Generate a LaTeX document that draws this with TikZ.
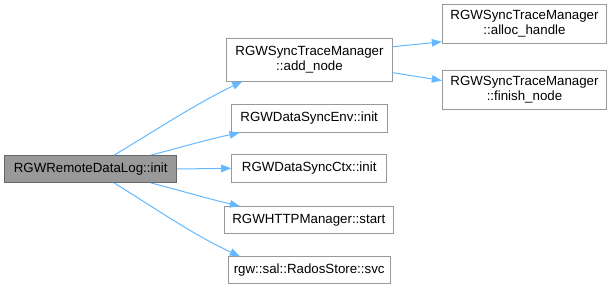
\documentclass[tikz,border=0pt]{standalone}
\usepackage{fontspec}
\setmainfont{Liberation Sans}
\usetikzlibrary{arrows.meta,calc}
\definecolor{edgeblue}{HTML}{63B8FF}
\definecolor{boxline}{HTML}{999999}
\definecolor{mainfill}{HTML}{999999}
\definecolor{mainline}{HTML}{666666}
\begin{document}
\begin{tikzpicture}[x=1pt,y=-1pt,
  fn/.style={draw=boxline,line width=1pt,fill=white,inner sep=0pt,align=center,
    font=\fontsize{13.3}{15.6}\selectfont},
  current/.style={fn,draw=mainline,fill=mainfill},
  call/.style={draw=edgeblue,line width=1pt,
    -{Triangle[length=10pt,width=7.5pt,fill=edgeblue]}}]
\useasboundingbox (0,0) rectangle (613,289);
% caller
\node[current,minimum width=172pt,minimum height=27pt] (main) at (90.7,169) {RGWRemoteDataLog::init};
% direct callees
\node[fn,minimum width=165.6pt,minimum height=42.7pt] (add) at (309.5,59.7) {RGWSyncTraceManager\\::add\_node};
\node[fn,minimum width=156.3pt,minimum height=28pt] (env) at (309.2,118.3) {RGWDataSyncEnv::init};
\node[fn,minimum width=155pt,minimum height=28pt] (ctx) at (309.2,168.3) {RGWDataSyncCtx::init};
\node[fn,minimum width=169pt,minimum height=26.7pt] (http) at (308.8,220) {RGWHTTPManager::start};
\node[fn,minimum width=161.7pt,minimum height=27.3pt] (svc) at (309.2,270.3) {rgw::sal::RadosStore::svc};
% callees of add_node
\node[fn,minimum width=164.4pt,minimum height=39pt] (alloc) at (524.5,23.8) {RGWSyncTraceManager\\::alloc\_handle};
\node[fn,minimum width=164.4pt,minimum height=39pt] (finish) at (524.5,89.5) {RGWSyncTraceManager\\::finish\_node};
% call edges
\draw[call] ($(main.north west)+(110,0)$) .. controls (150,134) and (195,104) .. ($(add.south west)+(16,0)$);
\draw[call] ($(main.north west)+(147,0)$) .. controls (175,149) and (205,140) .. ($(env.south west)+(9,0)$);
\draw[call] (main.east) -- (ctx.west);
\draw[call] ($(main.south west)+(147,0)$) .. controls (175,189) and (205,198) .. ($(http.north west)+(16,0)$);
\draw[call] ($(main.south west)+(110,0)$) .. controls (150,205) and (195,236) .. ($(svc.north west)+(12,0)$);
\draw[call] ($(add.east)+(0,-13)$) -- ($(alloc.west)+(0,18)$);
\draw[call] ($(add.east)+(0,13)$) -- ($(finish.west)+(0,-9)$);
\end{tikzpicture}
\end{document}
